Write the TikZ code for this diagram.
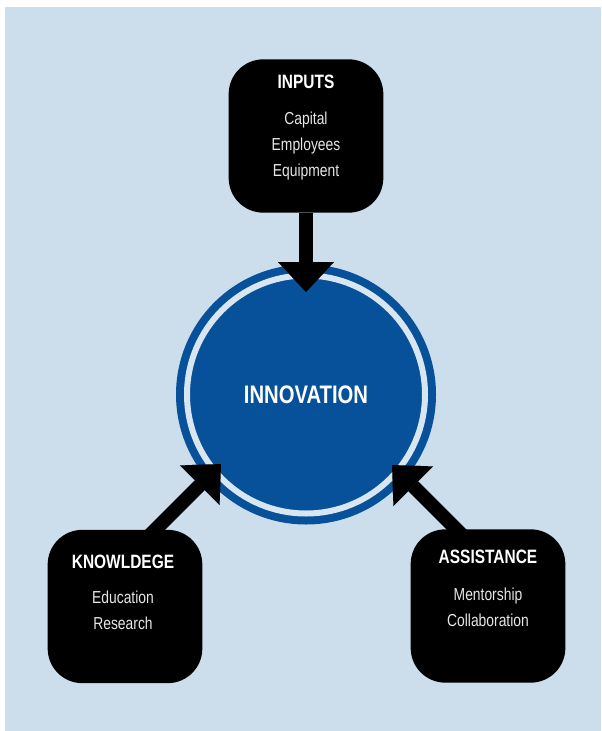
\documentclass[tikz,border=0pt]{standalone}
\usepackage{fontspec}
\setmainfont{Liberation Sans}[FakeStretch=0.8]
\usetikzlibrary{arrows.meta}
\definecolor{paper}{HTML}{CCDEEC}
\definecolor{ring}{HTML}{06519A}
\definecolor{gap}{HTML}{D8E6F2}
\definecolor{item}{HTML}{E6E6E6}
\pgfdeclarelayer{bg}
\pgfdeclarelayer{links}
\pgfsetlayers{bg,links,main}

\begin{document}
\begin{tikzpicture}[x=0.75pt,y=-0.75pt,
  box/.style={fill=black, rounded corners=26pt, minimum width=116pt, minimum height=115pt, inner sep=0pt},
  head/.style={text=white, font=\bfseries\fontsize{14.5}{17}\selectfont},
  items/.style={text=item, align=center, font=\fontsize{13}{19.5}\selectfont},
  feed/.style={line width=10.5pt, -{Triangle[width=42pt,length=22.5pt,line width=0.01pt]}}]
\useasboundingbox (0,0) rectangle (601,731);
\begin{pgfonlayer}{bg}
\fill[paper] (5,7) rectangle (601,731);
% centre disc with a light gap ring
\node[circle, fill=ring, draw=ring, double=gap, double distance=4.5pt, line width=6pt,
  minimum size=178.5pt, inner sep=0pt, text=white,
  font=\bfseries\fontsize{19}{22}\selectfont] (innov) at (306,394.5) {INNOVATION};
\end{pgfonlayer}
% three black boxes
\node[box] (inputs) at (306,136) {};
\node[head] (inputs-h) at (306,82) {INPUTS};
\node[items] (inputs-i) at (306,146) {Capital\\Employees\\Equipment};
\node[box] (knowledge) at (125,606.5) {};
\node[head] (knowledge-h) at (123,562) {KNOWLDEGE};
\node[items] (knowledge-i) at (123,610) {Education\\Research};
\node[box] (assistance) at (488,606) {};
\node[head] (assistance-h) at (488,557) {ASSISTANCE};
\node[items] (assistance-i) at (488,607) {Mentorship\\Collaboration};
% arrows into the disc
\coordinate (tip-in) at (306,292);
\coordinate (tip-kn) at (221,464);
\coordinate (tip-as) at (392,465);
\coordinate (tail-kn) at (145,540);
\coordinate (tail-as) at (468,541);
\begin{pgfonlayer}{links}
\draw[feed] (inputs) -- (tip-in);
\draw[feed] (tail-kn) -- (tip-kn);
\draw[feed] (tail-as) -- (tip-as);
\end{pgfonlayer}
\end{tikzpicture}
\end{document}
